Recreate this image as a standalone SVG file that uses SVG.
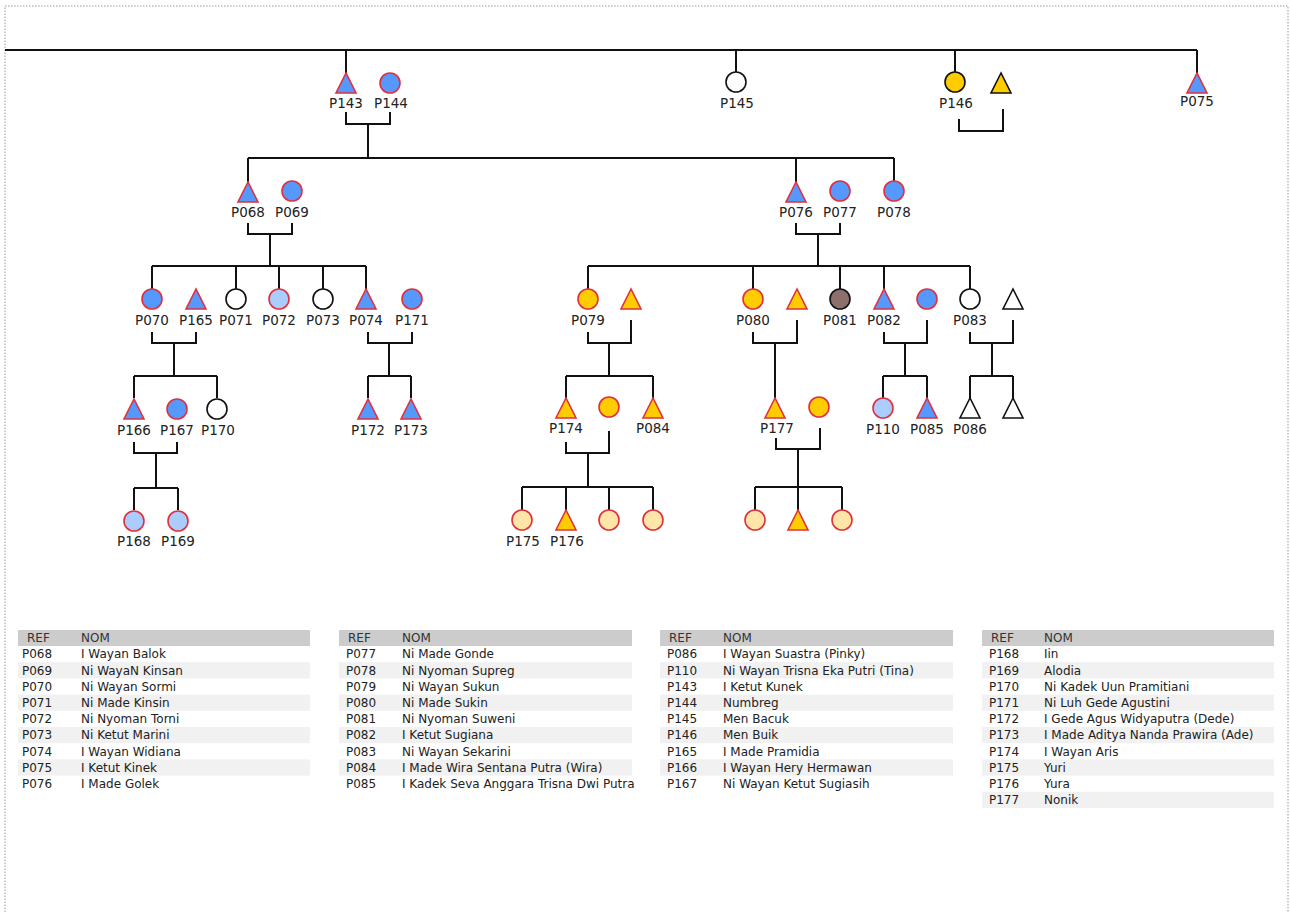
<svg xmlns="http://www.w3.org/2000/svg" width="1290" height="913" viewBox="0 0 1290 913">
  <style>
    .lnk { fill: none; stroke: #111; stroke-width: 2; }
    .s { stroke-width: 1.6; }
    .bl { fill: #5599ff; stroke: #e0303c; }
    .lb { fill: #aaccff; stroke: #e0303c; }
    .ye { fill: #ffcc00; stroke: #e0303c; }
    .ly { fill: #ffe6a8; stroke: #e0303c; }
    .yk { fill: #ffcc00; stroke: #111; }
    .wh { fill: #ffffff; stroke: #111; }
    .br { fill: #8c706b; stroke: #111; }
    .lbl { font-family: "DejaVu Sans", sans-serif; font-size: 13.5px; fill: #222; text-anchor: middle; }
    .tb { font-family: "DejaVu Sans", sans-serif; font-size: 12px; fill: #222; }
    .th { font-family: "DejaVu Sans", sans-serif; font-size: 12px; fill: #333; }
    .hd { fill: #cccccc; }
    .alt { fill: #f1f1f1; }
  </style>
  <defs>
    <circle id="c" cx="0" cy="0" r="10"/>
    <polygon id="t" points="0,-10 -10,10 10,10"/>
  </defs>

  <rect x="5" y="6" width="1283" height="1000" fill="#fff" stroke="#999" stroke-width="1" stroke-dasharray="1.5 1.5"/>

  <!-- connectors -->
  <g id="connectors" class="lnk">
    <path d="M5 50 H1197 M346 50 V73 M736 50 V72 M955 50 V72 M1197 50 V73"/>
    <path d="M346 112 V124 H390 V112 M368 124 V158"/>
    <path d="M248 158 H894 M248 158 V182 M796 158 V182 M894 158 V181"/>
    <path d="M959 119 V131 H1003 V109"/>
    <path d="M248 223 V234 H292 V223 M270 234 V266"/>
    <path d="M152 266 H366 M152 266 V289 M236 266 V289 M279 266 V289 M323 266 V289 M366 266 V289"/>
    <path d="M796 223 V234 H840 V223 M818 234 V266"/>
    <path d="M588 266 H970 M588 266 V289 M753 266 V289 M840 266 V289 M884 266 V289 M970 266 V289"/>
    <path d="M152 332 V343 H196 V332 M174 343 V376 M134 376 H217 M134 376 V398 M217 376 V398"/>
    <path d="M368 332 V343 H412 V332 M389 343 V376 M368 376 H411 M368 376 V398 M411 376 V398"/>
    <path d="M588 332 V343 H631 V320 M609 343 V376 M566 376 H653 M566 376 V398 M653 376 V398"/>
    <path d="M753 332 V343 H797 V320 M775 343 V398"/>
    <path d="M884 332 V343 H927 V320 M905 343 V376 M883 376 H927 M883 376 V398 M927 376 V398"/>
    <path d="M970 332 V343 H1013 V320 M992 343 V376 M970 376 H1013 M970 376 V398 M1013 376 V398"/>
    <path d="M134 442 V453 H177 V442 M156 453 V488 M134 488 H178 M134 488 V510 M178 488 V510"/>
    <path d="M566 442 V453 H609 V431 M588 453 V487 M522 487 H653 M522 487 V510 M566 487 V510 M609 487 V510 M653 487 V510"/>
    <path d="M776 438 V449 H820 V428 M798 449 V487 M755 487 H842 M755 487 V510 M798 487 V510 M842 487 V510"/>
  </g>

  <!-- generation 1 -->
  <g id="P143"><use href="#t" x="346" y="83" class="bl s"/><text class="lbl" x="346" y="108">P143</text></g>
  <g id="P144"><use href="#c" x="390" y="83" class="bl s"/><text class="lbl" x="391" y="108">P144</text></g>
  <g id="P145"><use href="#c" x="736" y="82" class="wh s"/><text class="lbl" x="737" y="108">P145</text></g>
  <g id="P146"><use href="#c" x="955" y="82" class="yk s"/><text class="lbl" x="956" y="108">P146</text></g>
  <g id="P146-spouse"><use href="#t" x="1001" y="83" class="yk s"/></g>
  <g id="P075"><use href="#t" x="1197" y="83" class="bl s"/><text class="lbl" x="1197" y="106">P075</text></g>

  <!-- generation 2 -->
  <g id="P068"><use href="#t" x="248" y="192" class="bl s"/><text class="lbl" x="248" y="217">P068</text></g>
  <g id="P069"><use href="#c" x="292" y="191" class="bl s"/><text class="lbl" x="292" y="217">P069</text></g>
  <g id="P076"><use href="#t" x="796" y="192" class="bl s"/><text class="lbl" x="796" y="217">P076</text></g>
  <g id="P077"><use href="#c" x="840" y="191" class="bl s"/><text class="lbl" x="840" y="217">P077</text></g>
  <g id="P078"><use href="#c" x="894" y="191" class="bl s"/><text class="lbl" x="894" y="217">P078</text></g>

  <!-- generation 3 -->
  <g id="P070"><use href="#c" x="152" y="299" class="bl s"/><text class="lbl" x="152" y="325">P070</text></g>
  <g id="P165"><use href="#t" x="196" y="299" class="bl s"/><text class="lbl" x="196" y="325">P165</text></g>
  <g id="P071"><use href="#c" x="236" y="299" class="wh s"/><text class="lbl" x="236" y="325">P071</text></g>
  <g id="P072"><use href="#c" x="279" y="299" class="lb s"/><text class="lbl" x="279" y="325">P072</text></g>
  <g id="P073"><use href="#c" x="323" y="299" class="wh s"/><text class="lbl" x="323" y="325">P073</text></g>
  <g id="P074"><use href="#t" x="366" y="299" class="bl s"/><text class="lbl" x="366" y="325">P074</text></g>
  <g id="P171"><use href="#c" x="412" y="299" class="bl s"/><text class="lbl" x="412" y="325">P171</text></g>
  <g id="P079"><use href="#c" x="588" y="299" class="ye s"/><text class="lbl" x="588" y="325">P079</text></g>
  <g id="P079-spouse"><use href="#t" x="631" y="299" class="ye s"/></g>
  <g id="P080"><use href="#c" x="753" y="299" class="ye s"/><text class="lbl" x="753" y="325">P080</text></g>
  <g id="P080-spouse"><use href="#t" x="797" y="299" class="ye s"/></g>
  <g id="P081"><use href="#c" x="840" y="299" class="br s"/><text class="lbl" x="840" y="325">P081</text></g>
  <g id="P082"><use href="#t" x="884" y="299" class="bl s"/><text class="lbl" x="884" y="325">P082</text></g>
  <g id="P082-spouse"><use href="#c" x="927" y="299" class="bl s"/></g>
  <g id="P083"><use href="#c" x="970" y="299" class="wh s"/><text class="lbl" x="970" y="325">P083</text></g>
  <g id="P083-spouse"><use href="#t" x="1013" y="299" class="wh s"/></g>

  <!-- generation 4 -->
  <g id="P166"><use href="#t" x="134" y="409" class="bl s"/><text class="lbl" x="134" y="435">P166</text></g>
  <g id="P167"><use href="#c" x="177" y="409" class="bl s"/><text class="lbl" x="177" y="435">P167</text></g>
  <g id="P170"><use href="#c" x="217" y="409" class="wh s"/><text class="lbl" x="218" y="435">P170</text></g>
  <g id="P172"><use href="#t" x="368" y="409" class="bl s"/><text class="lbl" x="368" y="435">P172</text></g>
  <g id="P173"><use href="#t" x="411" y="409" class="bl s"/><text class="lbl" x="411" y="435">P173</text></g>
  <g id="P174"><use href="#t" x="566" y="408" class="ye s"/><text class="lbl" x="566" y="433">P174</text></g>
  <g id="P174-spouse"><use href="#c" x="609" y="407" class="ye s"/></g>
  <g id="P084"><use href="#t" x="653" y="408" class="ye s"/><text class="lbl" x="653" y="433">P084</text></g>
  <g id="P177"><use href="#t" x="775" y="408" class="ye s"/><text class="lbl" x="777" y="433">P177</text></g>
  <g id="P177-spouse"><use href="#c" x="819" y="407" class="ye s"/></g>
  <g id="P110"><use href="#c" x="883" y="408" class="lb s"/><text class="lbl" x="883" y="434">P110</text></g>
  <g id="P085"><use href="#t" x="927" y="408" class="bl s"/><text class="lbl" x="927" y="434">P085</text></g>
  <g id="P086"><use href="#t" x="970" y="408" class="wh s"/><text class="lbl" x="970" y="434">P086</text></g>
  <g id="P083-child"><use href="#t" x="1013" y="408" class="wh s"/></g>

  <!-- generation 5 -->
  <g id="P168"><use href="#c" x="134" y="521" class="lb s"/><text class="lbl" x="134" y="546">P168</text></g>
  <g id="P169"><use href="#c" x="178" y="521" class="lb s"/><text class="lbl" x="178" y="546">P169</text></g>
  <g id="P175"><use href="#c" x="522" y="520" class="ly s"/><text class="lbl" x="523" y="546">P175</text></g>
  <g id="P176"><use href="#t" x="566" y="520" class="ye s"/><text class="lbl" x="567" y="546">P176</text></g>
  <g id="P174-child3"><use href="#c" x="609" y="520" class="ly s"/></g>
  <g id="P174-child4"><use href="#c" x="653" y="520" class="ly s"/></g>
  <g id="P177-child1"><use href="#c" x="755" y="520" class="ly s"/></g>
  <g id="P177-child2"><use href="#t" x="798" y="520" class="ye s"/></g>
  <g id="P177-child3"><use href="#c" x="842" y="520" class="ly s"/></g>

  <!-- name tables -->
  <g id="table1">
    <rect class="hd" x="18" y="630" width="292" height="16"/>
    <rect class="alt" x="18" y="662.2" width="292" height="16.2"/>
    <rect class="alt" x="18" y="694.6" width="292" height="16.2"/>
    <rect class="alt" x="18" y="727" width="292" height="16.2"/>
    <rect class="alt" x="18" y="759.4" width="292" height="16.2"/>
    <text class="th" x="27" y="642">REF</text><text class="th" x="81" y="642">NOM</text>
    <text class="tb" x="22" y="658.4">P068</text><text class="tb" x="81" y="658.4">I Wayan Balok</text>
    <text class="tb" x="22" y="674.6">P069</text><text class="tb" x="81" y="674.6">Ni WayaN Kinsan</text>
    <text class="tb" x="22" y="690.8">P070</text><text class="tb" x="81" y="690.8">Ni Wayan Sormi</text>
    <text class="tb" x="22" y="707">P071</text><text class="tb" x="81" y="707">Ni Made Kinsin</text>
    <text class="tb" x="22" y="723.2">P072</text><text class="tb" x="81" y="723.2">Ni Nyoman Torni</text>
    <text class="tb" x="22" y="739.4">P073</text><text class="tb" x="81" y="739.4">Ni Ketut Marini</text>
    <text class="tb" x="22" y="755.6">P074</text><text class="tb" x="81" y="755.6">I Wayan Widiana</text>
    <text class="tb" x="22" y="771.8">P075</text><text class="tb" x="81" y="771.8">I Ketut Kinek</text>
    <text class="tb" x="22" y="788">P076</text><text class="tb" x="81" y="788">I Made Golek</text>
  </g>
  <g id="table2">
    <rect class="hd" x="339" y="630" width="293" height="16"/>
    <rect class="alt" x="339" y="662.2" width="293" height="16.2"/>
    <rect class="alt" x="339" y="694.6" width="293" height="16.2"/>
    <rect class="alt" x="339" y="727" width="293" height="16.2"/>
    <rect class="alt" x="339" y="759.4" width="293" height="16.2"/>
    <text class="th" x="348" y="642">REF</text><text class="th" x="402" y="642">NOM</text>
    <text class="tb" x="346" y="658.4">P077</text><text class="tb" x="402" y="658.4">Ni Made Gonde</text>
    <text class="tb" x="346" y="674.6">P078</text><text class="tb" x="402" y="674.6">Ni Nyoman Supreg</text>
    <text class="tb" x="346" y="690.8">P079</text><text class="tb" x="402" y="690.8">Ni Wayan Sukun</text>
    <text class="tb" x="346" y="707">P080</text><text class="tb" x="402" y="707">Ni Made Sukin</text>
    <text class="tb" x="346" y="723.2">P081</text><text class="tb" x="402" y="723.2">Ni Nyoman Suweni</text>
    <text class="tb" x="346" y="739.4">P082</text><text class="tb" x="402" y="739.4">I Ketut Sugiana</text>
    <text class="tb" x="346" y="755.6">P083</text><text class="tb" x="402" y="755.6">Ni Wayan Sekarini</text>
    <text class="tb" x="346" y="771.8">P084</text><text class="tb" x="402" y="771.8">I Made Wira Sentana Putra (Wira)</text>
    <text class="tb" x="346" y="788">P085</text><text class="tb" x="402" y="788">I Kadek Seva Anggara Trisna Dwi Putra</text>
  </g>
  <g id="table3">
    <rect class="hd" x="660" y="630" width="293" height="16"/>
    <rect class="alt" x="660" y="662.2" width="293" height="16.2"/>
    <rect class="alt" x="660" y="694.6" width="293" height="16.2"/>
    <rect class="alt" x="660" y="727" width="293" height="16.2"/>
    <rect class="alt" x="660" y="759.4" width="293" height="16.2"/>
    <text class="th" x="669" y="642">REF</text><text class="th" x="723" y="642">NOM</text>
    <text class="tb" x="667" y="658.4">P086</text><text class="tb" x="723" y="658.4">I Wayan Suastra (Pinky)</text>
    <text class="tb" x="667" y="674.6">P110</text><text class="tb" x="723" y="674.6">Ni Wayan Trisna Eka Putri (Tina)</text>
    <text class="tb" x="667" y="690.8">P143</text><text class="tb" x="723" y="690.8">I Ketut Kunek</text>
    <text class="tb" x="667" y="707">P144</text><text class="tb" x="723" y="707">Numbreg</text>
    <text class="tb" x="667" y="723.2">P145</text><text class="tb" x="723" y="723.2">Men Bacuk</text>
    <text class="tb" x="667" y="739.4">P146</text><text class="tb" x="723" y="739.4">Men Buik</text>
    <text class="tb" x="667" y="755.6">P165</text><text class="tb" x="723" y="755.6">I Made Pramidia</text>
    <text class="tb" x="667" y="771.8">P166</text><text class="tb" x="723" y="771.8">I Wayan Hery Hermawan</text>
    <text class="tb" x="667" y="788">P167</text><text class="tb" x="723" y="788">Ni Wayan Ketut Sugiasih</text>
  </g>
  <g id="table4">
    <rect class="hd" x="982" y="630" width="292" height="16"/>
    <rect class="alt" x="982" y="662.2" width="292" height="16.2"/>
    <rect class="alt" x="982" y="694.6" width="292" height="16.2"/>
    <rect class="alt" x="982" y="727" width="292" height="16.2"/>
    <rect class="alt" x="982" y="759.4" width="292" height="16.2"/>
    <rect class="alt" x="982" y="791.8" width="292" height="16.2"/>
    <text class="th" x="991" y="642">REF</text><text class="th" x="1044" y="642">NOM</text>
    <text class="tb" x="989" y="658.4">P168</text><text class="tb" x="1044" y="658.4">Iin</text>
    <text class="tb" x="989" y="674.6">P169</text><text class="tb" x="1044" y="674.6">Alodia</text>
    <text class="tb" x="989" y="690.8">P170</text><text class="tb" x="1044" y="690.8">Ni Kadek Uun Pramitiani</text>
    <text class="tb" x="989" y="707">P171</text><text class="tb" x="1044" y="707">Ni Luh Gede Agustini</text>
    <text class="tb" x="989" y="723.2">P172</text><text class="tb" x="1044" y="723.2">I Gede Agus Widyaputra (Dede)</text>
    <text class="tb" x="989" y="739.4">P173</text><text class="tb" x="1044" y="739.4">I Made Aditya Nanda Prawira (Ade)</text>
    <text class="tb" x="989" y="755.6">P174</text><text class="tb" x="1044" y="755.6">I Wayan Aris</text>
    <text class="tb" x="989" y="771.8">P175</text><text class="tb" x="1044" y="771.8">Yuri</text>
    <text class="tb" x="989" y="788">P176</text><text class="tb" x="1044" y="788">Yura</text>
    <text class="tb" x="989" y="804.2">P177</text><text class="tb" x="1044" y="804.2">Nonik</text>
  </g>
</svg>
